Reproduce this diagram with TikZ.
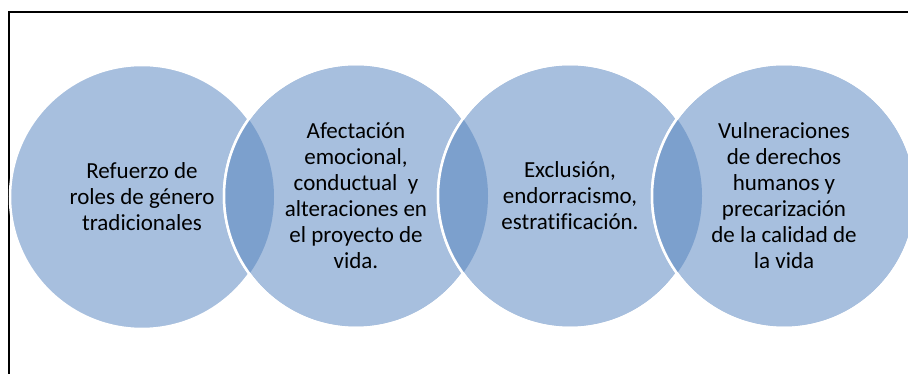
\documentclass[tikz,border=0pt]{standalone}
\usepackage{fontspec}
\setmainfont{Carlito}[Ligatures=NoCommon]
\definecolor{vennlight}{HTML}{A7BFDE}
\definecolor{venndark}{HTML}{7CA0CD}
\begin{document}
\begin{tikzpicture}[x=1pt,y=-1pt,
  venn/.style={circle, minimum size=264pt, inner sep=0pt, fill=vennlight, draw=white, line width=2.5pt, align=center, font=\fontsize{23}{26}\selectfont},
  lensfill/.style={fill=venndark},
  rim/.style={draw=white, line width=2.5pt},
  frame/.style={draw=black, line width=1.8pt}]
\useasboundingbox (0,0) rectangle (908,374);
\clip (0,0) rectangle (908,374);
\draw[frame] (9,11.8) rectangle (930,400);
\node[venn] (c1) at (142,197) {Refuerzo de\\roles de género\\tradicionales};
\node[venn] (c2) at (356,196) {Afectación\\emocional,\\conductual\ \ y\\alteraciones en\\el proyecto de\\vida.};
\begin{scope}
  \clip (c1.center) circle (132pt);
  \fill[lensfill] (c2.center) circle (132pt);
\end{scope}
\draw[rim] (c2.center) circle (132pt);
\node[venn] (c3) at (570,196) {Exclusión,\\endorracismo,\\estratificación.};
\begin{scope}
  \clip (c2.center) circle (132pt);
  \fill[lensfill] (c3.center) circle (132pt);
\end{scope}
\draw[rim] (c3.center) circle (132pt);
\node[venn] (c4) at (784,196) {Vulneraciones\\de derechos\\humanos y\\precarización\\de la calidad de\\la vida};
\begin{scope}
  \clip (c3.center) circle (132pt);
  \fill[lensfill] (c4.center) circle (132pt);
\end{scope}
\draw[rim] (c4.center) circle (132pt);
\end{tikzpicture}
\end{document}
